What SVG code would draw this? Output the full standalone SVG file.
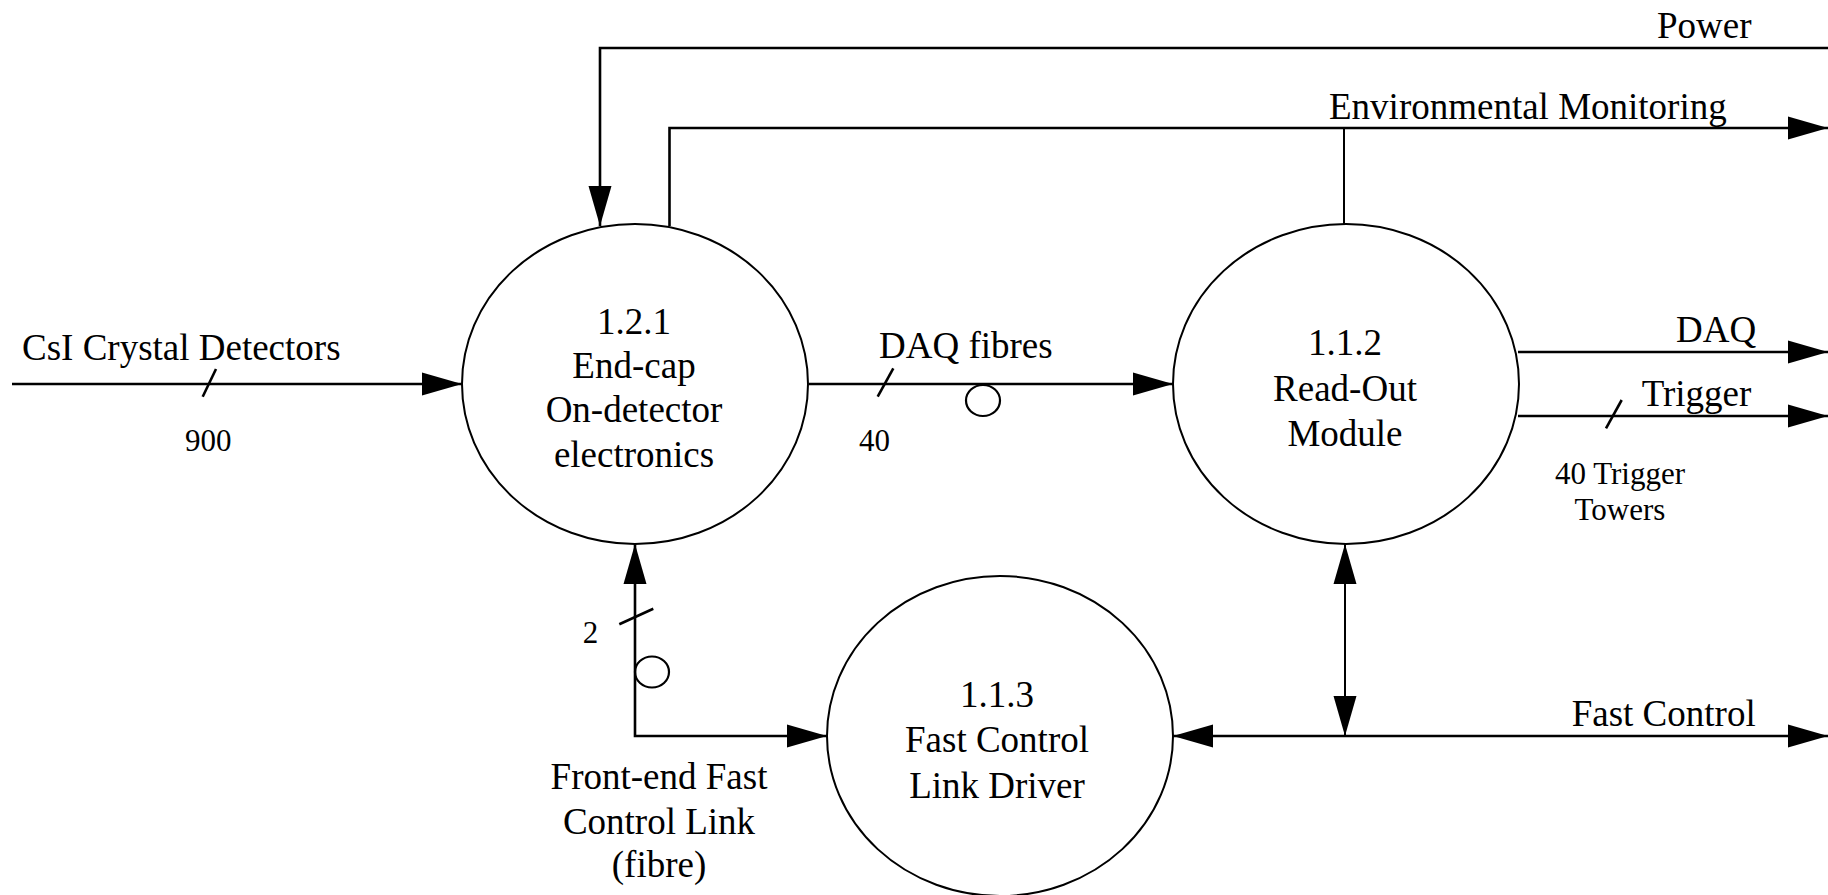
<svg xmlns="http://www.w3.org/2000/svg" width="1828" height="895" viewBox="0 0 1828 895">
<style>
text { font-family: "Liberation Serif", "Times New Roman", serif; fill: #000; }
.t { font-size: 37px; }
.s { font-size: 31px; }
.c { text-anchor: middle; }
.node { fill: #fff; stroke: #000; stroke-width: 2; }
.ln { fill: none; stroke: #000; stroke-width: 2.6; }
.thin { fill: none; stroke: #000; stroke-width: 2; }
.arr { marker-end: url(#ah); }
.bi { marker-start: url(#ah); marker-end: url(#ah); }
.ring { fill: none; stroke: #000; stroke-width: 2.2; }
</style>
<defs>
<marker id="ah" markerUnits="userSpaceOnUse" markerWidth="40" markerHeight="23" refX="40" refY="11.5" orient="auto-start-reverse" overflow="visible">
<path d="M0,0 L40,11.5 L0,23 Z" fill="#000"/>
</marker>
</defs>
<rect width="1828" height="895" fill="#fff"/>
<g id="connectors">
<path class="ln arr" d="M1828,48 H600 V226"/>
<path class="ln arr" d="M669.5,226 V128 H1828"/>
<path class="thin" d="M1344,224 V128"/>
<path class="ln arr" d="M12,384 H462"/>
<path class="ln arr" d="M809,384 H1173"/>
<path class="ln arr" d="M1518,352 H1828"/>
<path class="ln arr" d="M1518,416 H1828"/>
<path class="ln bi" d="M1173,736 H1828"/>
<path class="thin bi" d="M1345,544 V736"/>
<path class="ln bi" d="M635,544 V736 H827"/>
<line class="ln" x1="216" y1="369" x2="202.7" y2="396.7"/>
<line class="ln" x1="893.3" y1="368.3" x2="877.7" y2="396.7"/>
<line class="ln" x1="1621.7" y1="400" x2="1606" y2="428.3"/>
<line class="ln" x1="619.3" y1="624.3" x2="653.3" y2="608.7"/>
<ellipse class="ring" cx="983" cy="400.5" rx="17" ry="15.5"/>
<ellipse class="ring" cx="652" cy="672" rx="17" ry="15.5"/>
<text class="t" x="1657" y="38">Power</text>
<text class="t" x="1329" y="119">Environmental Monitoring</text>
<text class="t" x="22" y="360">CsI Crystal Detectors</text>
<text class="s" x="185" y="450.7">900</text>
<text class="t" x="879" y="357.7">DAQ fibres</text>
<text class="s" x="859" y="450.7">40</text>
<text class="t" x="1676" y="341.7">DAQ</text>
<text class="t" x="1641.7" y="405.5">Trigger</text>
<text class="s c" x="1620" y="484">40 Trigger</text>
<text class="s c" x="1620" y="519.5">Towers</text>
<text class="s" x="582.7" y="643.3">2</text>
<text class="t" x="1571.7" y="725.5">Fast Control</text>
<text class="t c" x="659" y="789">Front-end Fast</text>
<text class="t c" x="659" y="834">Control Link</text>
<text class="t c" x="659" y="877">(fibre)</text>
</g>
<g id="node-121">
<ellipse class="node" cx="635" cy="384" rx="173" ry="160"/>
<text class="t c" x="634" y="334">1.2.1</text>
<text class="t c" x="634" y="378">End-cap</text>
<text class="t c" x="634" y="422">On-detector</text>
<text class="t c" x="634" y="466.5">electronics</text>
</g>
<g id="node-112">
<ellipse class="node" cx="1346" cy="384" rx="173" ry="160"/>
<text class="t c" x="1345" y="355">1.1.2</text>
<text class="t c" x="1345" y="400.5">Read-Out</text>
<text class="t c" x="1345" y="446">Module</text>
</g>
<g id="node-113">
<ellipse class="node" cx="1000" cy="736" rx="173" ry="160"/>
<text class="t c" x="997" y="707">1.1.3</text>
<text class="t c" x="997" y="752">Fast Control</text>
<text class="t c" x="997" y="797.5">Link Driver</text>
</g>
</svg>
